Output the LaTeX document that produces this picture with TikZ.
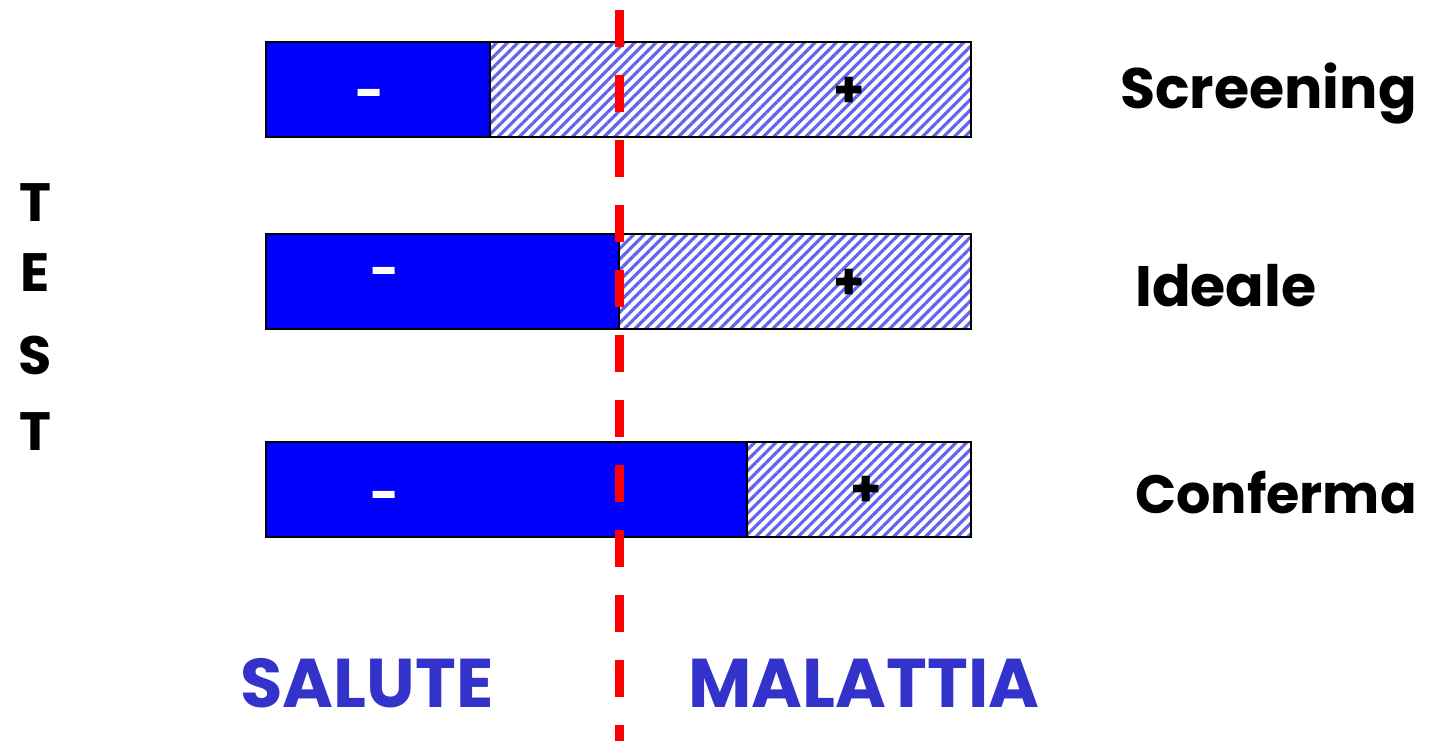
\documentclass[tikz,border=0pt]{standalone}
\usepackage{fontspec}
\setmainfont{Poppins}
\usetikzlibrary{patterns.meta}
\definecolor{barblue}{RGB}{0,0,255}
\definecolor{hatchblue}{RGB}{100,100,235}
\definecolor{labblue}{RGB}{51,51,204}
\definecolor{dashred}{RGB}{255,0,0}
\tikzset{
  negbox/.style={fill=barblue, draw=black, line width=1.5pt},
  posbox/.style={pattern={Lines[angle=45,distance=7.5pt,line width=3.2pt]}, pattern color=hatchblue, draw=black, line width=1.5pt},
  sign/.style={font=\fontsize{50}{50}\selectfont\bfseries, inner sep=0pt},
  lab/.style={font=\fontsize{57}{57}\selectfont\bfseries, anchor=west, inner sep=0pt},
  bot/.style={font=\fontsize{69}{69}\selectfont\bfseries, text=labblue, inner sep=0pt},
  testl/.style={font=\fontsize{54}{54}\selectfont\bfseries, inner sep=0pt}
}
\begin{document}
\begin{tikzpicture}[x=1pt,y=-1pt]
\useasboundingbox (0,0) rectangle (1429,741);
% bars
\path[posbox] (490,42) rectangle (971,137);
\path[negbox] (266,42) rectangle (490,137);
\path[posbox] (619,234) rectangle (971,329);
\path[negbox] (266,234) rectangle (619,329);
\path[posbox] (747,442) rectangle (971,537);
\path[negbox] (266,442) rectangle (747,537);
% signs
\node[sign, text=white] (m1) at (370,100) {-};
\node[sign, text=white] (m2) at (385,278) {-};
\node[sign, text=white] (m3) at (385,502) {-};
\node[sign] (p1) at (849,92) {+};
\node[sign] (p2) at (849,284) {+};
\node[sign] (p3) at (866,491) {+};
% dashed line
\coordinate (dtop) at (619,10);
\coordinate (dbot) at (619,741);
\draw[dashred, line width=9pt, dash pattern=on 37pt off 28pt] (dtop) -- (dbot);
% labels
\node[lab] (scr) at (1120,94) {Screening};
\node[lab] (ide) at (1135,286) {Ideale};
\node[lab, font=\fontsize{54}{54}\selectfont\bfseries] (con) at (1135,493) {Conferma};
\node[testl] (t1) at (35,203) {T};
\node[testl] (t2) at (35,273) {E};
\node[testl] (t3) at (35,355) {S};
\node[testl] (t4) at (35,432) {T};
\node[bot] (sal) at (367,683) {SALUTE};
\node[bot] (mal) at (864,683) {MALATTIA};
\end{tikzpicture}
\end{document}
